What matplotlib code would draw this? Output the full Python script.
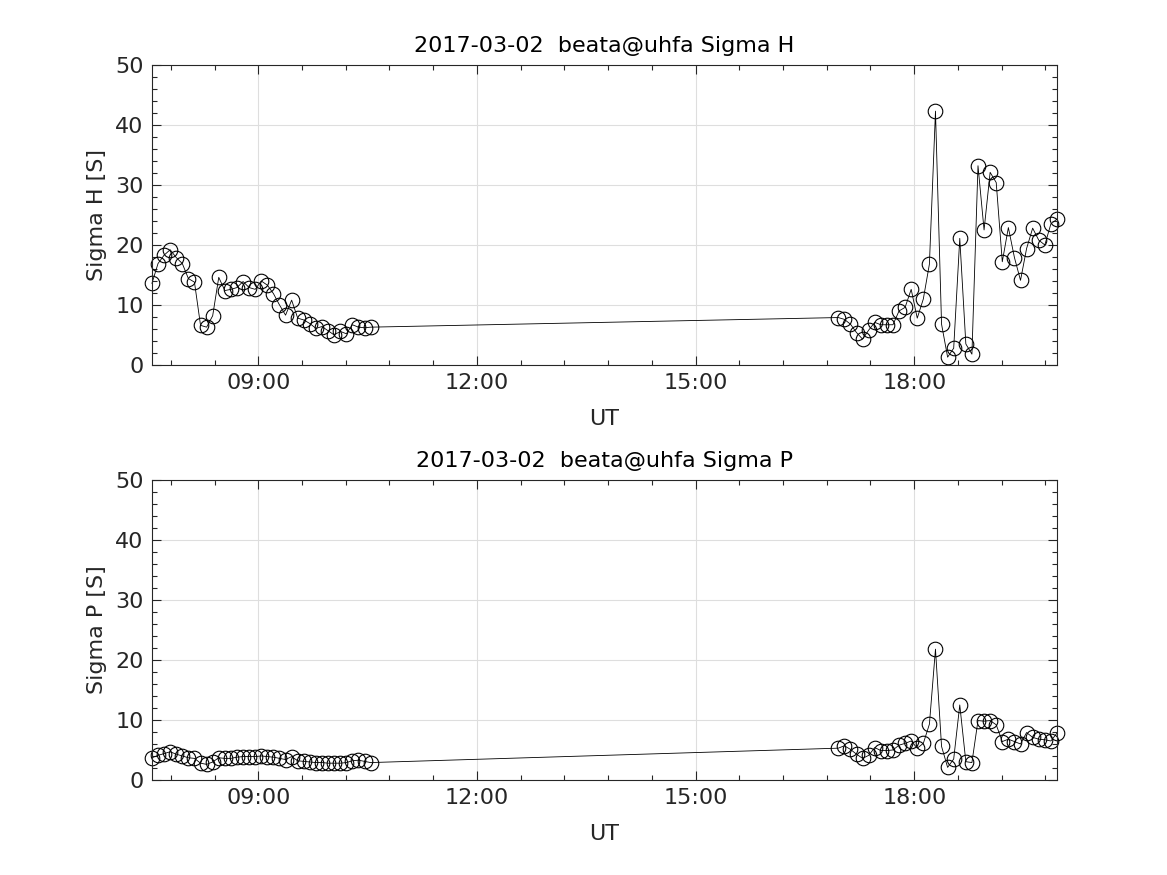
import numpy as np
import matplotlib
matplotlib.use('Agg')
import matplotlib.pyplot as plt
from matplotlib.ticker import MultipleLocator, FuncFormatter

# 5-minute integration times (UT)
times_am = ['07:32:30', '07:37:30', '07:42:30', '07:47:30', '07:52:30', '07:57:30',
            '08:02:30', '08:07:30', '08:12:30', '08:17:30', '08:22:30', '08:27:30',
            '08:32:30', '08:37:30', '08:42:30', '08:47:30', '08:52:30', '08:57:30',
            '09:02:30', '09:07:30', '09:12:30', '09:17:30', '09:22:30', '09:27:30',
            '09:32:30', '09:37:30', '09:42:30', '09:47:30', '09:52:30', '09:57:30',
            '10:02:30', '10:07:30', '10:12:30', '10:17:30', '10:22:30', '10:27:30',
            '10:32:30']
times_pm = ['16:57:30', '17:02:30', '17:07:30', '17:12:30', '17:17:30', '17:22:30',
            '17:27:30', '17:32:30', '17:37:30', '17:42:30', '17:47:30', '17:52:30',
            '17:57:30', '18:02:30', '18:07:30', '18:12:30', '18:17:30', '18:22:30',
            '18:27:30', '18:32:30', '18:37:30', '18:42:30', '18:47:30', '18:52:30',
            '18:57:30', '19:02:30', '19:07:30', '19:12:30', '19:17:30', '19:22:30',
            '19:27:30', '19:32:30', '19:37:30', '19:42:30', '19:47:30', '19:52:30',
            '19:57:30']

sigma_h = [13.6, 16.9, 18.3, 19.2, 17.9, 16.9, 14.4, 13.8, 6.6, 6.3, 8.2, 14.6,
           12.4, 12.6, 12.9, 13.9, 12.9, 12.6, 14.0, 13.3, 11.9, 10.0, 8.3, 10.8,
           7.8, 7.5, 6.9, 6.1, 6.4, 5.7, 5.0, 5.6, 5.2, 6.7, 6.3, 6.2, 6.3,
           7.9, 7.6, 6.8, 5.4, 4.3, 5.8, 7.1, 6.7, 6.7, 6.7, 9.0, 9.6,
           12.6, 7.8, 11.0, 16.8, 42.3, 6.8, 1.3, 2.8, 21.1, 3.5, 1.8, 33.2,
           22.5, 32.1, 30.4, 17.2, 22.9, 17.9, 14.1, 19.4, 22.8, 20.8, 20.0, 23.5,
           24.3]
sigma_p = [3.7, 4.1, 4.4, 4.7, 4.3, 4.0, 3.7, 3.6, 2.8, 2.6, 3.0, 3.7,
           3.6, 3.6, 3.8, 3.9, 3.9, 3.9, 4.0, 3.9, 3.8, 3.6, 3.4, 3.9,
           3.2, 3.1, 3.0, 2.9, 2.9, 2.8, 2.8, 2.8, 2.9, 3.2, 3.3, 3.1, 2.9,
           5.3, 5.7, 5.1, 4.3, 3.6, 4.1, 5.4, 4.9, 4.9, 5.0, 5.8, 6.1,
           6.5, 5.3, 6.1, 9.3, 21.8, 5.6, 2.1, 3.5, 12.5, 3.05, 2.9, 9.9,
           9.8, 9.9, 9.2, 6.4, 6.8, 6.4, 6.0, 7.9, 7.1, 6.8, 6.7, 6.5,
           7.8]

title_date = '2017-03-02'
site = 'beata@uhfa'


def to_hours(t):
    h, m, s = (int(v) for v in t.split(':'))
    return h + m / 60.0 + s / 3600.0


ut = np.array([to_hours(t) for t in times_am + times_pm])

gray = (0.15, 0.15, 0.15)
plt.rcParams['font.family'] = 'DejaVu Sans'

fig = plt.figure(figsize=(11.67, 8.75), dpi=100)
left, width, height = 0.1302, 0.7755, 0.3429
ax_h = fig.add_axes([left, 0.5829, width, height])
ax_p = fig.add_axes([left, 0.1086, width, height])

for ax, vals, name in [(ax_h, sigma_h, 'H'), (ax_p, sigma_p, 'P')]:
    ax.plot(ut, vals, '-', color='k', linewidth=0.6,
            marker='o', markersize=10.5, markerfacecolor='none',
            markeredgecolor='k', markeredgewidth=0.8, clip_on=False)
    ax.set_xlim(ut.min(), ut.max())
    ax.set_ylim(0, 50)
    ax.xaxis.set_major_locator(MultipleLocator(3))
    ax.xaxis.set_minor_locator(MultipleLocator(0.6))
    ax.xaxis.set_major_formatter(FuncFormatter(lambda v, p: '%02d:00' % int(round(v))))
    ax.yaxis.set_major_locator(MultipleLocator(10))
    ax.yaxis.set_minor_locator(MultipleLocator(2))
    ax.grid(True, which='major', color=(0.87, 0.87, 0.87), linewidth=0.8)
    ax.set_axisbelow(True)
    ax.tick_params(which='both', direction='in', top=True, right=True,
                   colors=gray, labelsize=16, width=0.8)
    ax.tick_params(which='major', length=6.5, pad=6)
    ax.tick_params(which='minor', length=3.5)
    for sp in ax.spines.values():
        sp.set_color(gray)
        sp.set_linewidth(0.8)
    ax.set_xlabel('UT', fontsize=16, color=gray, labelpad=11)
    ax.set_ylabel('Sigma %s [S]' % name, fontsize=16, color=gray, labelpad=6)
    ax.set_title('%s  %s Sigma %s' % (title_date, site, name), fontsize=16,
                 color='k', pad=9)

fig.savefig('out.png', dpi=100)
